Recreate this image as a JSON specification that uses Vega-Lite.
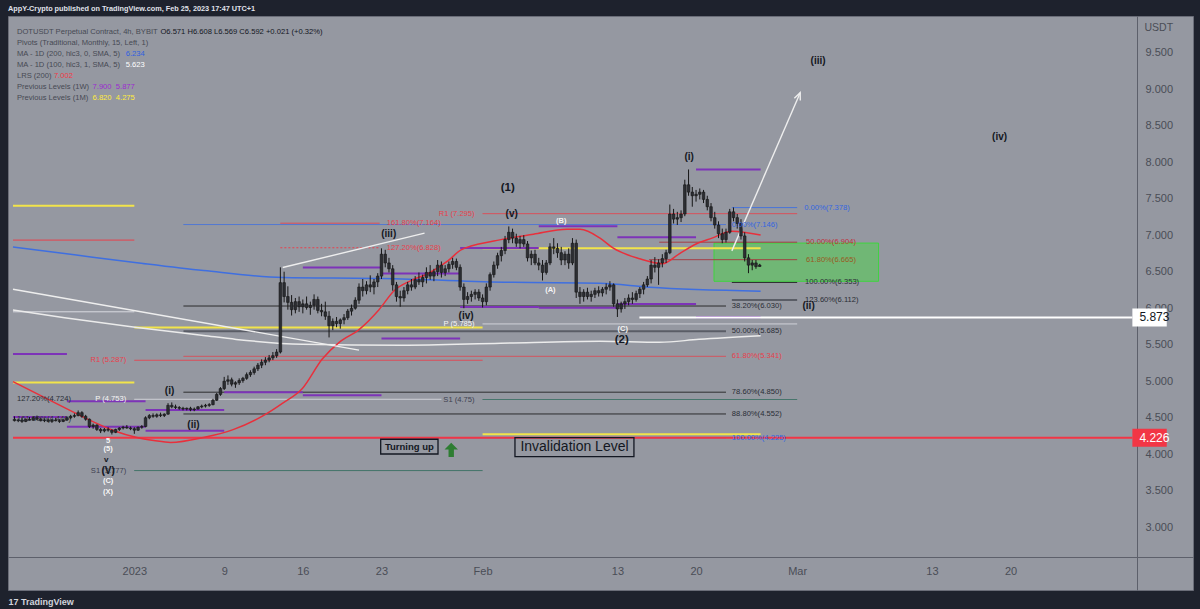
{
"$schema":"https://vega.github.io/schema/vega-lite/v6.json",
"width":1185,"height":574,
"autosize":{"type":"none"},
"padding":{"left":8,"top":16,"right":7,"bottom":19},
"background":"#1e222d",
"title":{"text":"AppY-Crypto published on TradingView.com, Feb 25, 2023 17:47 UTC+1","anchor":"start","frame":"group","color":"#e0e3eb","fontSize":7.3,"fontWeight":"bold","font":"Liberation Sans","offset":4},
"config":{"view":{"fill":"#9598a1","stroke":"#6a6d78","strokeWidth":1},"font":"Liberation Sans","axis":{"grid":false}},
"encoding":{
 "x":{"field":"t","type":"temporal","scale":{"domain":[{"year":2022,"month":12,"date":21,"hours":4,"minutes":48},{"year":2023,"month":4,"date":4,"hours":19}],"nice":false},
   "axis":{"orient":"bottom","offset":-33,"zindex":0,"values":[{"year":2023,"month":1,"date":1},{"year":2023,"month":1,"date":9},{"year":2023,"month":1,"date":16},{"year":2023,"month":1,"date":23},{"year":2023,"month":2,"date":1},{"year":2023,"month":2,"date":13},{"year":2023,"month":2,"date":20},{"year":2023,"month":3,"date":1},{"year":2023,"month":3,"date":13},{"year":2023,"month":3,"date":20}],
   "labelExpr":"date(datum.value)==1 ? (month(datum.value)==0 ? '2023' : timeFormat(datum.value,'%b')) : ''+date(datum.value)",
   "ticks":false,"tickSize":0,"labelPadding":8,"labelFontSize":11,"labelColor":"#4a4d56","labelFont":"Liberation Sans","domainColor":"#5d606b","domainWidth":1,"labelOverlap":false,"labelFlush":false,
   "title":"17 TradingView","titleX":0,"titleY":44,"titleAlign":"left","titleAnchor":"start","titleBaseline":"middle","titleColor":"#d1d4dc","titleFontSize":9,"titleFontWeight":"bold"}},
 "y":{"field":"p","type":"quantitative","scale":{"domain":[2.21,9.933],"nice":false,"zero":false},
   "axis":{"orient":"right","offset":-56,"zindex":0,"values":[3,3.5,4,4.5,5,5.5,6,6.5,7,7.5,8,8.5,9,9.5],"labelExpr":"format(datum.value,'.3f')",
   "ticks":false,"tickSize":0,"labelPadding":8,"labelAlign":"left","labelFontSize":11,"labelColor":"#4a4d56","labelFont":"Liberation Sans","domainColor":"#5d606b","labelOverlap":false,"labelFlush":false,
   "title":"USDT","titleAngle":0,"titleX":7,"titleY":11,"titleAlign":"left","titleBaseline":"middle","titleColor":"#4a4d56","titleFontSize":10.5,"titleFontWeight":"normal"}}
},
"datasets":{
"candles":[
{"t":"2022-12-21T08:00","o":4.48,"h":4.52,"l":4.45,"c":4.46},{"t":"2022-12-21T16:00","o":4.46,"h":4.49,"l":4.44,"c":4.47},
{"t":"2022-12-22T00:00","o":4.47,"h":4.50,"l":4.43,"c":4.45},{"t":"2022-12-22T08:00","o":4.45,"h":4.49,"l":4.44,"c":4.48},{"t":"2022-12-22T16:00","o":4.48,"h":4.51,"l":4.46,"c":4.47},
{"t":"2022-12-23T00:00","o":4.47,"h":4.52,"l":4.46,"c":4.50},{"t":"2022-12-23T08:00","o":4.50,"h":4.53,"l":4.47,"c":4.48},{"t":"2022-12-23T16:00","o":4.48,"h":4.50,"l":4.45,"c":4.46},
{"t":"2022-12-24T00:00","o":4.46,"h":4.49,"l":4.44,"c":4.47},{"t":"2022-12-24T08:00","o":4.47,"h":4.49,"l":4.44,"c":4.45},{"t":"2022-12-24T16:00","o":4.45,"h":4.48,"l":4.43,"c":4.47},
{"t":"2022-12-25T00:00","o":4.47,"h":4.50,"l":4.45,"c":4.46},{"t":"2022-12-25T08:00","o":4.46,"h":4.48,"l":4.43,"c":4.45},{"t":"2022-12-25T16:00","o":4.45,"h":4.48,"l":4.44,"c":4.47},
{"t":"2022-12-26T00:00","o":4.47,"h":4.51,"l":4.46,"c":4.50},{"t":"2022-12-26T08:00","o":4.50,"h":4.54,"l":4.48,"c":4.52},{"t":"2022-12-26T16:00","o":4.52,"h":4.56,"l":4.50,"c":4.53},
{"t":"2022-12-27T00:00","o":4.53,"h":4.60,"l":4.52,"c":4.57},{"t":"2022-12-27T08:00","o":4.57,"h":4.59,"l":4.50,"c":4.52},{"t":"2022-12-27T16:00","o":4.52,"h":4.54,"l":4.46,"c":4.48},
{"t":"2022-12-28T00:00","o":4.48,"h":4.49,"l":4.36,"c":4.38},{"t":"2022-12-28T08:00","o":4.38,"h":4.42,"l":4.35,"c":4.40},{"t":"2022-12-28T16:00","o":4.40,"h":4.41,"l":4.32,"c":4.34},
{"t":"2022-12-29T00:00","o":4.34,"h":4.36,"l":4.29,"c":4.32},{"t":"2022-12-29T08:00","o":4.32,"h":4.36,"l":4.30,"c":4.34},{"t":"2022-12-29T16:00","o":4.34,"h":4.37,"l":4.31,"c":4.33},
{"t":"2022-12-30T00:00","o":4.33,"h":4.34,"l":4.27,"c":4.30},{"t":"2022-12-30T08:00","o":4.30,"h":4.35,"l":4.29,"c":4.34},{"t":"2022-12-30T16:00","o":4.34,"h":4.37,"l":4.32,"c":4.36},
{"t":"2022-12-31T00:00","o":4.36,"h":4.39,"l":4.34,"c":4.37},{"t":"2022-12-31T08:00","o":4.37,"h":4.40,"l":4.35,"c":4.36},{"t":"2022-12-31T16:00","o":4.36,"h":4.38,"l":4.33,"c":4.35},
{"t":"2023-01-01T00:00","o":4.35,"h":4.37,"l":4.28,"c":4.33},{"t":"2023-01-01T08:00","o":4.33,"h":4.38,"l":4.32,"c":4.37},{"t":"2023-01-01T16:00","o":4.37,"h":4.40,"l":4.35,"c":4.38},
{"t":"2023-01-02T00:00","o":4.38,"h":4.52,"l":4.37,"c":4.50},{"t":"2023-01-02T08:00","o":4.50,"h":4.55,"l":4.48,"c":4.53},{"t":"2023-01-02T16:00","o":4.53,"h":4.56,"l":4.50,"c":4.52},
{"t":"2023-01-03T00:00","o":4.52,"h":4.56,"l":4.50,"c":4.54},{"t":"2023-01-03T08:00","o":4.54,"h":4.57,"l":4.51,"c":4.53},{"t":"2023-01-03T16:00","o":4.53,"h":4.56,"l":4.51,"c":4.55},
{"t":"2023-01-04T00:00","o":4.55,"h":4.70,"l":4.54,"c":4.67},{"t":"2023-01-04T08:00","o":4.67,"h":4.71,"l":4.63,"c":4.65},{"t":"2023-01-04T16:00","o":4.65,"h":4.68,"l":4.62,"c":4.64},
{"t":"2023-01-05T00:00","o":4.64,"h":4.66,"l":4.61,"c":4.63},{"t":"2023-01-05T08:00","o":4.63,"h":4.65,"l":4.60,"c":4.62},{"t":"2023-01-05T16:00","o":4.62,"h":4.64,"l":4.60,"c":4.63},
{"t":"2023-01-06T00:00","o":4.63,"h":4.65,"l":4.59,"c":4.61},{"t":"2023-01-06T08:00","o":4.61,"h":4.64,"l":4.59,"c":4.62},{"t":"2023-01-06T16:00","o":4.62,"h":4.66,"l":4.61,"c":4.65},
{"t":"2023-01-07T00:00","o":4.65,"h":4.68,"l":4.63,"c":4.66},{"t":"2023-01-07T08:00","o":4.66,"h":4.69,"l":4.64,"c":4.67},{"t":"2023-01-07T16:00","o":4.67,"h":4.70,"l":4.65,"c":4.68},
{"t":"2023-01-08T00:00","o":4.68,"h":4.76,"l":4.67,"c":4.74},{"t":"2023-01-08T08:00","o":4.74,"h":4.84,"l":4.73,"c":4.82},{"t":"2023-01-08T16:00","o":4.82,"h":4.92,"l":4.80,"c":4.90},
{"t":"2023-01-09T00:00","o":4.90,"h":5.06,"l":4.88,"c":5.00},{"t":"2023-01-09T08:00","o":5.00,"h":5.08,"l":4.95,"c":5.02},{"t":"2023-01-09T16:00","o":5.02,"h":5.05,"l":4.93,"c":4.96},
{"t":"2023-01-10T00:00","o":4.96,"h":5.00,"l":4.91,"c":4.98},{"t":"2023-01-10T08:00","o":4.98,"h":5.04,"l":4.95,"c":5.01},{"t":"2023-01-10T16:00","o":5.01,"h":5.06,"l":4.98,"c":5.04},
{"t":"2023-01-11T00:00","o":5.04,"h":5.12,"l":5.02,"c":5.09},{"t":"2023-01-11T08:00","o":5.09,"h":5.15,"l":5.06,"c":5.12},{"t":"2023-01-11T16:00","o":5.12,"h":5.20,"l":5.09,"c":5.17},
{"t":"2023-01-12T00:00","o":5.17,"h":5.25,"l":5.14,"c":5.22},{"t":"2023-01-12T08:00","o":5.22,"h":5.30,"l":5.18,"c":5.26},{"t":"2023-01-12T16:00","o":5.26,"h":5.33,"l":5.22,"c":5.29},
{"t":"2023-01-13T00:00","o":5.29,"h":5.36,"l":5.26,"c":5.32},{"t":"2023-01-13T08:00","o":5.32,"h":5.40,"l":5.29,"c":5.35},{"t":"2023-01-13T16:00","o":5.35,"h":5.44,"l":5.32,"c":5.40},
{"t":"2023-01-14T00:00","o":5.40,"h":6.56,"l":5.38,"c":6.35},{"t":"2023-01-14T08:00","o":6.35,"h":6.50,"l":6.08,"c":6.16},{"t":"2023-01-14T16:00","o":6.16,"h":6.30,"l":5.98,"c":6.08},
{"t":"2023-01-15T00:00","o":6.08,"h":6.18,"l":5.90,"c":5.98},{"t":"2023-01-15T08:00","o":5.98,"h":6.14,"l":5.93,"c":6.09},{"t":"2023-01-15T16:00","o":6.09,"h":6.16,"l":5.95,"c":6.02},
{"t":"2023-01-16T00:00","o":6.02,"h":6.12,"l":5.93,"c":6.06},{"t":"2023-01-16T08:00","o":6.06,"h":6.16,"l":5.98,"c":6.01},{"t":"2023-01-16T16:00","o":6.01,"h":6.09,"l":5.91,"c":6.04},
{"t":"2023-01-17T00:00","o":6.04,"h":6.19,"l":5.98,"c":6.12},{"t":"2023-01-17T08:00","o":6.12,"h":6.16,"l":5.93,"c":5.97},{"t":"2023-01-17T16:00","o":5.97,"h":6.06,"l":5.89,"c":5.95},
{"t":"2023-01-18T00:00","o":5.95,"h":6.09,"l":5.84,"c":5.89},{"t":"2023-01-18T08:00","o":5.89,"h":5.96,"l":5.60,"c":5.76},{"t":"2023-01-18T16:00","o":5.76,"h":5.86,"l":5.70,"c":5.82},
{"t":"2023-01-19T00:00","o":5.82,"h":5.88,"l":5.74,"c":5.79},{"t":"2023-01-19T08:00","o":5.79,"h":5.86,"l":5.72,"c":5.84},{"t":"2023-01-19T16:00","o":5.84,"h":5.92,"l":5.78,"c":5.87},
{"t":"2023-01-20T00:00","o":5.87,"h":5.99,"l":5.84,"c":5.96},{"t":"2023-01-20T08:00","o":5.96,"h":6.05,"l":5.90,"c":6.00},{"t":"2023-01-20T16:00","o":6.00,"h":6.15,"l":5.98,"c":6.11},
{"t":"2023-01-21T00:00","o":6.11,"h":6.34,"l":6.06,"c":6.29},{"t":"2023-01-21T08:00","o":6.29,"h":6.40,"l":6.16,"c":6.24},{"t":"2023-01-21T16:00","o":6.24,"h":6.37,"l":6.19,"c":6.32},
{"t":"2023-01-22T00:00","o":6.32,"h":6.45,"l":6.22,"c":6.29},{"t":"2023-01-22T08:00","o":6.29,"h":6.40,"l":6.19,"c":6.36},{"t":"2023-01-22T16:00","o":6.36,"h":6.48,"l":6.29,"c":6.44},
{"t":"2023-01-23T00:00","o":6.44,"h":6.82,"l":6.40,"c":6.74},{"t":"2023-01-23T08:00","o":6.74,"h":6.80,"l":6.56,"c":6.62},{"t":"2023-01-23T16:00","o":6.62,"h":6.69,"l":6.49,"c":6.54},
{"t":"2023-01-24T00:00","o":6.54,"h":6.59,"l":6.24,"c":6.32},{"t":"2023-01-24T08:00","o":6.32,"h":6.36,"l":6.09,"c":6.16},{"t":"2023-01-24T16:00","o":6.16,"h":6.24,"l":6.02,"c":6.14},
{"t":"2023-01-25T00:00","o":6.14,"h":6.29,"l":6.09,"c":6.24},{"t":"2023-01-25T08:00","o":6.24,"h":6.36,"l":6.19,"c":6.32},{"t":"2023-01-25T16:00","o":6.32,"h":6.40,"l":6.24,"c":6.29},
{"t":"2023-01-26T00:00","o":6.29,"h":6.44,"l":6.26,"c":6.39},{"t":"2023-01-26T08:00","o":6.39,"h":6.49,"l":6.32,"c":6.36},{"t":"2023-01-26T16:00","o":6.36,"h":6.46,"l":6.29,"c":6.42},
{"t":"2023-01-27T00:00","o":6.42,"h":6.56,"l":6.34,"c":6.49},{"t":"2023-01-27T08:00","o":6.49,"h":6.59,"l":6.39,"c":6.44},{"t":"2023-01-27T16:00","o":6.44,"h":6.54,"l":6.37,"c":6.50},
{"t":"2023-01-28T00:00","o":6.50,"h":6.66,"l":6.44,"c":6.59},{"t":"2023-01-28T08:00","o":6.59,"h":6.64,"l":6.42,"c":6.49},{"t":"2023-01-28T16:00","o":6.49,"h":6.59,"l":6.44,"c":6.54},
{"t":"2023-01-29T00:00","o":6.54,"h":6.64,"l":6.49,"c":6.60},{"t":"2023-01-29T08:00","o":6.60,"h":6.69,"l":6.54,"c":6.64},{"t":"2023-01-29T16:00","o":6.64,"h":6.68,"l":6.52,"c":6.56},
{"t":"2023-01-30T00:00","o":6.56,"h":6.60,"l":6.24,"c":6.29},{"t":"2023-01-30T08:00","o":6.29,"h":6.34,"l":6.00,"c":6.12},{"t":"2023-01-30T16:00","o":6.12,"h":6.22,"l":6.06,"c":6.16},
{"t":"2023-01-31T00:00","o":6.16,"h":6.24,"l":6.09,"c":6.19},{"t":"2023-01-31T08:00","o":6.19,"h":6.26,"l":6.12,"c":6.22},{"t":"2023-01-31T16:00","o":6.22,"h":6.26,"l":6.10,"c":6.14},
{"t":"2023-02-01T00:00","o":6.14,"h":6.19,"l":6.01,"c":6.09},{"t":"2023-02-01T08:00","o":6.09,"h":6.34,"l":6.04,"c":6.29},{"t":"2023-02-01T16:00","o":6.29,"h":6.49,"l":6.24,"c":6.46},
{"t":"2023-02-02T00:00","o":6.46,"h":6.64,"l":6.42,"c":6.59},{"t":"2023-02-02T08:00","o":6.59,"h":6.76,"l":6.54,"c":6.72},{"t":"2023-02-02T16:00","o":6.72,"h":6.84,"l":6.64,"c":6.79},
{"t":"2023-02-03T00:00","o":6.79,"h":6.99,"l":6.74,"c":6.94},{"t":"2023-02-03T08:00","o":6.94,"h":7.12,"l":6.89,"c":7.04},{"t":"2023-02-03T16:00","o":7.04,"h":7.09,"l":6.89,"c":6.96},
{"t":"2023-02-04T00:00","o":6.96,"h":7.02,"l":6.84,"c":6.89},{"t":"2023-02-04T08:00","o":6.89,"h":6.99,"l":6.82,"c":6.94},{"t":"2023-02-04T16:00","o":6.94,"h":7.00,"l":6.84,"c":6.88},
{"t":"2023-02-05T00:00","o":6.88,"h":6.92,"l":6.64,"c":6.69},{"t":"2023-02-05T08:00","o":6.69,"h":6.79,"l":6.59,"c":6.74},{"t":"2023-02-05T16:00","o":6.74,"h":6.80,"l":6.59,"c":6.62},
{"t":"2023-02-06T00:00","o":6.62,"h":6.69,"l":6.52,"c":6.59},{"t":"2023-02-06T08:00","o":6.59,"h":6.66,"l":6.38,"c":6.49},{"t":"2023-02-06T16:00","o":6.49,"h":6.66,"l":6.46,"c":6.62},
{"t":"2023-02-07T00:00","o":6.62,"h":6.89,"l":6.59,"c":6.84},{"t":"2023-02-07T08:00","o":6.84,"h":6.96,"l":6.74,"c":6.82},{"t":"2023-02-07T16:00","o":6.82,"h":6.89,"l":6.69,"c":6.76},
{"t":"2023-02-08T00:00","o":6.76,"h":6.84,"l":6.59,"c":6.66},{"t":"2023-02-08T08:00","o":6.66,"h":6.78,"l":6.59,"c":6.74},{"t":"2023-02-08T16:00","o":6.74,"h":6.82,"l":6.54,"c":6.62},
{"t":"2023-02-09T00:00","o":6.62,"h":6.96,"l":6.59,"c":6.89},{"t":"2023-02-09T08:00","o":6.89,"h":6.94,"l":6.14,"c":6.22},{"t":"2023-02-09T16:00","o":6.22,"h":6.29,"l":6.06,"c":6.16},
{"t":"2023-02-10T00:00","o":6.16,"h":6.26,"l":6.09,"c":6.22},{"t":"2023-02-10T08:00","o":6.22,"h":6.28,"l":6.12,"c":6.16},{"t":"2023-02-10T16:00","o":6.16,"h":6.24,"l":6.09,"c":6.19},
{"t":"2023-02-11T00:00","o":6.19,"h":6.28,"l":6.14,"c":6.24},{"t":"2023-02-11T08:00","o":6.24,"h":6.30,"l":6.16,"c":6.21},{"t":"2023-02-11T16:00","o":6.21,"h":6.29,"l":6.16,"c":6.26},
{"t":"2023-02-12T00:00","o":6.26,"h":6.34,"l":6.19,"c":6.29},{"t":"2023-02-12T08:00","o":6.29,"h":6.37,"l":6.24,"c":6.32},{"t":"2023-02-12T16:00","o":6.32,"h":6.34,"l":6.02,"c":6.06},
{"t":"2023-02-13T00:00","o":6.06,"h":6.12,"l":5.88,"c":5.99},{"t":"2023-02-13T08:00","o":5.99,"h":6.09,"l":5.94,"c":6.06},{"t":"2023-02-13T16:00","o":6.06,"h":6.14,"l":5.99,"c":6.09},
{"t":"2023-02-14T00:00","o":6.09,"h":6.19,"l":6.04,"c":6.14},{"t":"2023-02-14T08:00","o":6.14,"h":6.22,"l":6.06,"c":6.12},{"t":"2023-02-14T16:00","o":6.12,"h":6.24,"l":6.09,"c":6.20},
{"t":"2023-02-15T00:00","o":6.20,"h":6.29,"l":6.14,"c":6.26},{"t":"2023-02-15T08:00","o":6.26,"h":6.36,"l":6.19,"c":6.32},{"t":"2023-02-15T16:00","o":6.32,"h":6.44,"l":6.29,"c":6.40},
{"t":"2023-02-16T00:00","o":6.40,"h":6.66,"l":6.34,"c":6.59},{"t":"2023-02-16T08:00","o":6.59,"h":6.70,"l":6.49,"c":6.56},{"t":"2023-02-16T16:00","o":6.56,"h":6.67,"l":6.32,"c":6.62},
{"t":"2023-02-17T00:00","o":6.62,"h":6.74,"l":6.56,"c":6.68},{"t":"2023-02-17T08:00","o":6.68,"h":6.80,"l":6.62,"c":6.76},{"t":"2023-02-17T16:00","o":6.76,"h":7.42,"l":6.74,"c":7.29},
{"t":"2023-02-18T00:00","o":7.29,"h":7.36,"l":7.16,"c":7.22},{"t":"2023-02-18T08:00","o":7.22,"h":7.32,"l":7.14,"c":7.24},{"t":"2023-02-18T16:00","o":7.24,"h":7.34,"l":7.18,"c":7.29},
{"t":"2023-02-19T00:00","o":7.29,"h":7.76,"l":7.26,"c":7.69},{"t":"2023-02-19T08:00","o":7.69,"h":7.90,"l":7.54,"c":7.59},{"t":"2023-02-19T16:00","o":7.59,"h":7.66,"l":7.39,"c":7.54},
{"t":"2023-02-20T00:00","o":7.54,"h":7.62,"l":7.46,"c":7.56},{"t":"2023-02-20T08:00","o":7.56,"h":7.64,"l":7.49,"c":7.59},{"t":"2023-02-20T16:00","o":7.59,"h":7.62,"l":7.44,"c":7.49},
{"t":"2023-02-21T00:00","o":7.49,"h":7.54,"l":7.34,"c":7.39},{"t":"2023-02-21T08:00","o":7.39,"h":7.44,"l":7.19,"c":7.24},{"t":"2023-02-21T16:00","o":7.24,"h":7.32,"l":7.09,"c":7.14},
{"t":"2023-02-22T00:00","o":7.14,"h":7.19,"l":6.96,"c":7.02},{"t":"2023-02-22T08:00","o":7.02,"h":7.09,"l":6.89,"c":6.94},{"t":"2023-02-22T16:00","o":6.94,"h":7.09,"l":6.90,"c":7.04},
{"t":"2023-02-23T00:00","o":7.04,"h":7.36,"l":7.02,"c":7.32},{"t":"2023-02-23T08:00","o":7.32,"h":7.38,"l":7.19,"c":7.24},{"t":"2023-02-23T16:00","o":7.24,"h":7.29,"l":7.09,"c":7.16},
{"t":"2023-02-24T00:00","o":7.16,"h":7.22,"l":6.94,"c":6.99},{"t":"2023-02-24T08:00","o":6.99,"h":7.04,"l":6.64,"c":6.69},{"t":"2023-02-24T16:00","o":6.69,"h":6.74,"l":6.48,"c":6.59},
{"t":"2023-02-25T00:00","o":6.59,"h":6.66,"l":6.52,"c":6.62},{"t":"2023-02-25T08:00","o":6.62,"h":6.66,"l":6.54,"c":6.57},{"t":"2023-02-25T16:00","o":6.571,"h":6.608,"l":6.569,"c":6.592}
],
"curves":[
{"s":"MA200","t":"2022-12-21T04:48","p":6.838},{"s":"MA200","t":"2022-12-26T16:00","p":6.731},{"s":"MA200","t":"2023-01-01T05:30","p":6.623},{"s":"MA200","t":"2023-01-07T04:00","p":6.516},{"s":"MA200","t":"2023-01-14T05:00","p":6.421},{"s":"MA200","t":"2023-01-23T01:00","p":6.408},{"s":"MA200","t":"2023-02-03T18:30","p":6.354},{"s":"MA200","t":"2023-02-11T11:00","p":6.341},{"s":"MA200","t":"2023-02-15T20:40","p":6.287},{"s":"MA200","t":"2023-02-25T18:00","p":6.234},
{"s":"MA100","t":"2022-12-21T04:48","p":5.977},{"s":"MA100","t":"2022-12-25T19:00","p":5.870},{"s":"MA100","t":"2023-01-01T05:30","p":5.735},{"s":"MA100","t":"2023-01-07T03:30","p":5.627},{"s":"MA100","t":"2023-01-10T01:30","p":5.573},{"s":"MA100","t":"2023-01-15T23:00","p":5.506},{"s":"MA100","t":"2023-01-24T19:00","p":5.493},{"s":"MA100","t":"2023-02-02T15:00","p":5.520},{"s":"MA100","t":"2023-02-11T11:00","p":5.547},{"s":"MA100","t":"2023-02-16T17:45","p":5.533},{"s":"MA100","t":"2023-02-20T06:30","p":5.574},{"s":"MA100","t":"2023-02-25T18:00","p":5.623},
{"s":"LRS","t":"2022-12-21T04:48","p":4.995},{"s":"LRS","t":"2022-12-26T09:40","p":4.592},{"s":"LRS","t":"2022-12-28T04:00","p":4.458},{"s":"LRS","t":"2022-12-30T04:50","p":4.323},{"s":"LRS","t":"2023-01-01T05:30","p":4.229},{"s":"LRS","t":"2023-01-02T17:30","p":4.189},{"s":"LRS","t":"2023-01-04T05:30","p":4.162},{"s":"LRS","t":"2023-01-07T03:30","p":4.229},{"s":"LRS","t":"2023-01-09T19:00","p":4.337},{"s":"LRS","t":"2023-01-12T10:30","p":4.525},{"s":"LRS","t":"2023-01-14T05:00","p":4.700},{"s":"LRS","t":"2023-01-15T23:00","p":4.901},{"s":"LRS","t":"2023-01-17T17:30","p":5.305},{"s":"LRS","t":"2023-01-19T05:40","p":5.533},{"s":"LRS","t":"2023-01-21T00:00","p":5.708},{"s":"LRS","t":"2023-01-22T18:15","p":5.977},{"s":"LRS","t":"2023-01-24T04:00","p":6.246},{"s":"LRS","t":"2023-01-25T16:00","p":6.381},{"s":"LRS","t":"2023-01-27T04:00","p":6.476},{"s":"LRS","t":"2023-01-28T22:30","p":6.651},{"s":"LRS","t":"2023-01-30T02:00","p":6.798},{"s":"LRS","t":"2023-02-02T00:00","p":6.920},{"s":"LRS","t":"2023-02-05T12:40","p":7.013},{"s":"LRS","t":"2023-02-08T12:40","p":7.081},{"s":"LRS","t":"2023-02-09T16:20","p":7.081},{"s":"LRS","t":"2023-02-11T11:00","p":6.960},{"s":"LRS","t":"2023-02-12T14:30","p":6.825},{"s":"LRS","t":"2023-02-14T23:30","p":6.677},{"s":"LRS","t":"2023-02-17T00:00","p":6.610},{"s":"LRS","t":"2023-02-18T12:00","p":6.745},{"s":"LRS","t":"2023-02-20T00:00","p":6.880},{"s":"LRS","t":"2023-02-21T10:00","p":6.960},{"s":"LRS","t":"2023-02-23T04:30","p":7.054},{"s":"LRS","t":"2023-02-25T18:00","p":7.002}
],
"drawings":[
{"s":"tl1","t":"2022-12-21T04:48","p":6.260},{"s":"tl1","t":"2023-01-21T00:00","p":5.426},
{"s":"tl2","t":"2023-01-14T05:00","p":6.557},{"s":"tl2","t":"2023-01-26T20:00","p":7.028},
{"s":"arrow","t":"2023-02-23T04:30","p":6.785},{"s":"arrow","t":"2023-03-01T06:30","p":8.951},
{"s":"head","t":"2023-02-28T18:00","p":8.875},{"s":"head","t":"2023-03-01T06:30","p":8.951},{"s":"head","t":"2023-03-01T06:40","p":8.843}
],
"levels":[
{"t":"2022-12-21T04:48","t2":"2023-01-01T00:00","p":5.951,"k":"pivP"},
{"t":"2022-12-21T04:48","t2":"2023-01-01T00:00","p":6.933,"k":"pivR"},
{"t":"2023-01-01T00:00","t2":"2023-01-28T08:00","p":4.753,"k":"pivP"},
{"t":"2023-01-01T00:00","t2":"2023-02-01T00:00","p":5.287,"k":"pivR"},
{"t":"2023-01-01T00:00","t2":"2023-02-01T00:00","p":3.777,"k":"pivS"},
{"t":"2023-02-01T00:00","t2":"2023-03-01T00:00","p":5.785,"k":"pivP"},
{"t":"2023-02-01T00:00","t2":"2023-03-01T00:00","p":7.295,"k":"pivR"},
{"t":"2023-02-01T00:00","t2":"2023-03-01T00:00","p":4.75,"k":"pivS"},
{"t":"2023-01-05T09:00","t2":"2023-02-22T16:00","p":7.146,"k":"fibBlue"},
{"t":"2023-01-05T09:00","t2":"2023-02-22T16:00","p":6.030,"k":"fibDark"},
{"t":"2023-01-05T09:00","t2":"2023-02-22T16:00","p":5.685,"k":"fibGray"},
{"t":"2023-01-05T09:00","t2":"2023-02-22T16:00","p":5.341,"k":"fibRed"},
{"t":"2023-01-05T09:00","t2":"2023-02-22T16:00","p":4.850,"k":"fibDark"},
{"t":"2023-01-05T09:00","t2":"2023-02-22T16:00","p":4.552,"k":"fibDark"},
{"t":"2023-01-05T09:00","t2":"2023-02-22T16:00","p":4.225,"k":"fibBlue"},
{"t":"2023-02-23T04:30","t2":"2023-03-01T00:00","p":7.378,"k":"fibBlue"},
{"t":"2023-02-16T17:30","t2":"2023-03-01T00:00","p":6.904,"k":"fibDarkRed"},
{"t":"2023-02-15T20:00","t2":"2023-03-01T00:00","p":6.665,"k":"fibDarkRed"},
{"t":"2023-02-23T04:30","t2":"2023-03-01T00:00","p":6.353,"k":"fibDark"},
{"t":"2023-02-23T04:30","t2":"2023-03-01T00:00","p":6.112,"k":"fibGray"},
{"t":"2023-01-14T00:00","t2":"2023-01-22T20:00","p":7.164,"k":"extRed"},
{"t":"2023-01-14T00:00","t2":"2023-01-22T20:00","p":6.828,"k":"extRedDot"},
{"t":"2022-12-21T04:48","t2":"2023-01-01T00:00","p":7.404,"k":"month"},
{"t":"2022-12-21T04:48","t2":"2023-01-01T00:00","p":4.982,"k":"month"},
{"t":"2023-01-01T00:00","t2":"2023-02-01T00:00","p":5.736,"k":"month"},
{"t":"2023-02-01T00:00","t2":"2023-02-25T18:00","p":6.820,"k":"month"},
{"t":"2023-02-01T00:00","t2":"2023-02-25T18:00","p":4.275,"k":"month"},
{"t":"2022-12-21T04:48","t2":"2022-12-26T00:00","p":5.372,"k":"week"},
{"t":"2022-12-21T04:48","t2":"2022-12-26T00:00","p":4.512,"k":"week"},
{"t":"2022-12-26T00:00","t2":"2023-01-02T00:00","p":4.727,"k":"week"},
{"t":"2022-12-26T00:00","t2":"2023-01-02T00:00","p":4.377,"k":"week"},
{"t":"2023-01-02T00:00","t2":"2023-01-09T00:00","p":4.606,"k":"week"},
{"t":"2023-01-02T00:00","t2":"2023-01-09T00:00","p":4.323,"k":"week"},
{"t":"2023-01-09T00:00","t2":"2023-01-16T00:00","p":4.848,"k":"week"},
{"t":"2023-01-16T00:00","t2":"2023-01-23T00:00","p":6.557,"k":"week"},
{"t":"2023-01-16T00:00","t2":"2023-01-23T00:00","p":4.808,"k":"week"},
{"t":"2023-01-23T00:00","t2":"2023-01-30T00:00","p":6.477,"k":"week"},
{"t":"2023-01-23T00:00","t2":"2023-01-30T00:00","p":5.587,"k":"week"},
{"t":"2023-01-30T00:00","t2":"2023-02-06T00:00","p":6.825,"k":"week"},
{"t":"2023-01-30T00:00","t2":"2023-02-06T00:00","p":6.018,"k":"week"},
{"t":"2023-02-06T00:00","t2":"2023-02-13T00:00","p":7.121,"k":"week"},
{"t":"2023-02-06T00:00","t2":"2023-02-13T00:00","p":6.005,"k":"week"},
{"t":"2023-02-13T00:00","t2":"2023-02-20T00:00","p":6.971,"k":"week"},
{"t":"2023-02-13T00:00","t2":"2023-02-20T00:00","p":6.059,"k":"week"},
{"t":"2023-02-20T00:00","t2":"2023-02-25T18:00","p":7.900,"k":"week"},
{"t":"2023-02-20T00:00","t2":"2023-02-25T18:00","p":5.877,"k":"week"},
{"t":"2023-02-14T23:00","t2":"2023-03-30T20:10","p":5.873,"k":"white"},
{"t":"2022-12-21T04:48","t2":"2023-03-30T20:10","p":4.226,"k":"invalid"}
],
"boxes":[
{"t":"2023-02-21T14:24","t2":"2023-03-08T06:00","p":6.892,"p2":6.369,"k":"zone"},
{"t":"2023-01-22T22:20","t2":"2023-01-28T00:45","p":4.206,"p2":4.004,"k":"turn"},
{"t":"2023-02-03T21:10","t2":"2023-02-14T11:20","p":4.229,"p2":3.969,"k":"inval"}
],
"tags":[
{"t":"2023-03-30T20:10","t2":"2023-04-02T21:36","p":5.873,"text":"5.873","k":"white"},
{"t":"2023-03-30T20:10","t2":"2023-04-02T21:36","p":4.226,"text":"4.226","k":"red"}
],
"labels":[
{"t":"2022-12-21T13:12","p":9.789,"text":"DOTUSDT Perpetual Contract, 4h, BYBIT","k":"hdr"},
{"t":"2023-01-03T07:40","p":9.789,"text":"O6.571 H6.608 L6.569 C6.592 +0.021 (+0.32%)","k":"hdrv"},
{"t":"2022-12-21T13:12","p":9.633,"text":"Pivots (Traditional, Monthly, 15, Left, 1)","k":"hdr"},
{"t":"2022-12-21T13:12","p":9.475,"text":"MA - 1D (200, hlc3, 0, SMA, 5)","k":"hdr"},
{"t":"2022-12-31T05:30","p":9.475,"text":"6.234","k":"hdrBlue"},
{"t":"2022-12-21T13:12","p":9.327,"text":"MA - 1D (100, hlc3, 1, SMA, 5)","k":"hdr"},
{"t":"2022-12-31T05:30","p":9.327,"text":"5.623","k":"hdrWhite"},
{"t":"2022-12-21T13:12","p":9.183,"text":"LRS (200)","k":"hdr"},
{"t":"2022-12-24T20:10","p":9.183,"text":"7.002","k":"hdrRed"},
{"t":"2022-12-21T13:12","p":9.035,"text":"Previous Levels (1W)","k":"hdr"},
{"t":"2022-12-28T06:45","p":9.035,"text":"7.900","k":"hdrPurple"},
{"t":"2022-12-30T08:25","p":9.035,"text":"5.877","k":"hdrPurple"},
{"t":"2022-12-21T13:12","p":8.879,"text":"Previous Levels (1M)","k":"hdr"},
{"t":"2022-12-28T06:45","p":8.879,"text":"6.820","k":"hdrYellow"},
{"t":"2022-12-30T08:25","p":8.879,"text":"4.275","k":"hdrYellow"},
{"t":"2022-12-21T13:12","p":4.753,"text":"127.20%(4.724)","k":"fibDark"},
{"t":"2022-12-21T13:12","p":4.485,"text":"161.80%(4.440)","k":"fibDark"},
{"t":"2023-01-23T11:15","p":7.164,"text":"161.80%(7.164)","k":"fibRed"},
{"t":"2023-01-23T11:15","p":6.828,"text":"127.20%(6.828)","k":"fibRed"},
{"t":"2023-02-23T04:30","p":7.146,"text":"0.00%(7.146)","k":"fibBlue"},
{"t":"2023-02-23T04:30","p":6.030,"text":"38.20%(6.030)","k":"fibDark"},
{"t":"2023-02-23T04:30","p":5.685,"text":"50.00%(5.685)","k":"fibDark"},
{"t":"2023-02-23T04:30","p":5.341,"text":"61.80%(5.341)","k":"fibRed"},
{"t":"2023-02-23T04:30","p":4.850,"text":"78.60%(4.850)","k":"fibDark"},
{"t":"2023-02-23T04:30","p":4.552,"text":"88.80%(4.552)","k":"fibDark"},
{"t":"2023-02-23T04:30","p":4.225,"text":"100.00%(4.225)","k":"fibBlue"},
{"t":"2023-03-01T15:00","p":7.378,"text":"0.00%(7.378)","k":"fibBlue"},
{"t":"2023-03-01T19:10","p":6.904,"text":"50.00%(6.904)","k":"fibRed2"},
{"t":"2023-03-01T19:10","p":6.665,"text":"61.80%(6.665)","k":"fibBrown"},
{"t":"2023-03-01T17:00","p":6.353,"text":"100.00%(6.353)","k":"fibDark"},
{"t":"2023-03-01T17:00","p":6.112,"text":"123.60%(6.112)","k":"fibDark"},
{"t":"2023-01-01T00:00","p":5.287,"text":"R1 (5.287)","k":"pivR"},
{"t":"2023-01-01T00:00","p":4.753,"text":"P (4.753)","k":"pivP"},
{"t":"2023-01-01T00:00","p":3.777,"text":"S1 (3.777)","k":"pivS"},
{"t":"2023-02-01T00:00","p":7.295,"text":"R1 (7.295)","k":"pivR"},
{"t":"2023-02-01T00:00","p":5.785,"text":"P (5.785)","k":"pivP"},
{"t":"2023-02-01T00:00","p":4.75,"text":"S1 (4.75)","k":"pivS"},
{"t":"2023-03-02T20:40","p":9.381,"text":"(iii)","k":"wave"},
{"t":"2023-03-19T00:30","p":8.345,"text":"(iv)","k":"wave"},
{"t":"2023-02-19T09:20","p":8.075,"text":"(i)","k":"wave"},
{"t":"2023-02-03T05:45","p":7.645,"text":"(1)","k":"waveL"},
{"t":"2023-02-03T14:10","p":7.295,"text":"(v)","k":"wave"},
{"t":"2023-02-08T00:00","p":7.188,"text":"(B)","k":"waveW"},
{"t":"2023-01-23T15:30","p":7.014,"text":"(iii)","k":"wave"},
{"t":"2023-02-07T00:45","p":6.247,"text":"(A)","k":"waveW"},
{"t":"2023-01-30T12:45","p":5.895,"text":"(iv)","k":"wave"},
{"t":"2023-02-13T11:20","p":5.721,"text":"(C)","k":"waveW"},
{"t":"2023-02-13T09:20","p":5.560,"text":"(2)","k":"waveL"},
{"t":"2023-01-04T03:20","p":4.862,"text":"(i)","k":"wave"},
{"t":"2023-01-06T06:15","p":4.405,"text":"(ii)","k":"wave"},
{"t":"2023-03-02T00:30","p":6.025,"text":"(ii)","k":"wave"},
{"t":"2022-12-29T16:00","p":4.175,"text":"5","k":"waveW"},
{"t":"2022-12-29T16:00","p":4.068,"text":"(5)","k":"waveW"},
{"t":"2022-12-29T12:00","p":3.919,"text":"v","k":"waveS"},
{"t":"2022-12-29T16:00","p":3.771,"text":"(V)","k":"wave"},
{"t":"2022-12-29T16:00","p":3.637,"text":"(C)","k":"waveW"},
{"t":"2022-12-29T16:00","p":3.489,"text":"(X)","k":"waveW"},
{"t":"2023-01-25T11:30","p":4.105,"text":"Turning up","k":"turn"},
{"t":"2023-02-09T04:20","p":4.100,"text":"Invalidation Level","k":"inval"}
],
"marks":[{"t":"2023-01-29T05:00","p":4.060,"k":"up"}]
},
"resolve":{"scale":{"color":"independent","size":"independent"}},
"layer":[
{"data":{"name":"boxes"},"transform":[{"filter":"datum.k=='zone'"}],
 "mark":{"type":"rect","fill":"#52d152","fillOpacity":0.55,"stroke":"#3ed43e","strokeWidth":1},
 "encoding":{"x2":{"field":"t2"},"y2":{"field":"p2"}}},
{"data":{"name":"levels"},
 "mark":{"type":"rule"},
 "encoding":{"x2":{"field":"t2"},
 "color":{"field":"k","type":"nominal","legend":null,"scale":{"domain":["week","month","pivP","pivR","pivS","fibDark","fibGray","fibRed","fibBlue","fibDarkRed","extRed","extRedDot","white","invalid"],"range":["#7d33b8","#f2e44a","#d9dbe0","#e8404c","#2f6b5c","#1d1d1d","#5a5d66","#e04652","#3f6fe0","#a8323a","#e8404c","#e8404c","#ffffff","#f23645"]}},
 "strokeWidth":{"condition":{"test":"indexof(['week','month','white','invalid','fibGray'], datum.k) >= 0","value":2},"value":1},
 "strokeDash":{"condition":{"test":"datum.k=='extRedDot'","value":[2,2]},"value":[1,0]}}},
{"data":{"name":"curves"},
 "mark":{"type":"line","interpolate":"monotone","strokeWidth":1.5},
 "encoding":{"color":{"field":"s","type":"nominal","legend":null,"scale":{"domain":["MA200","MA100","LRS"],"range":["#3f6fe0","#ebebeb","#e8303c"]}}}},
{"data":{"name":"drawings"},
 "mark":{"type":"line","color":"#eeeeee","strokeWidth":1.4},
 "encoding":{"detail":{"field":"s"}}},
{"data":{"name":"candles"},
 "mark":{"type":"rule","color":"#161616","strokeWidth":1,"clip":true},
 "encoding":{"y":{"field":"l","type":"quantitative","scale":{"domain":[2.21,9.933],"nice":false,"zero":false}},"y2":{"field":"h"}}},
{"data":{"name":"candles"},
 "mark":{"type":"bar","size":2.6,"color":"#2c2e33","stroke":"#151515","strokeWidth":0.6,"clip":true},
 "encoding":{"y":{"field":"o","type":"quantitative","scale":{"domain":[2.21,9.933],"nice":false,"zero":false}},"y2":{"field":"c"}}},
{"data":{"name":"boxes"},"transform":[{"filter":"datum.k!='zone'"}],
 "mark":{"type":"rect","fill":"#9598a1","fillOpacity":0,"stroke":"#131722","strokeWidth":1.3},
 "encoding":{"x2":{"field":"t2"},"y2":{"field":"p2"}}},
{"data":{"name":"marks"},
 "mark":{"type":"point","shape":"M0,-1L0.95,-0.05L0.38,-0.05L0.38,1L-0.38,1L-0.38,-0.05L-0.95,-0.05Z","filled":true,"color":"#2e7d32","size":200,"opacity":1}},
{"data":{"name":"labels"},"transform":[{"filter":"indexof(['hdr','hdrv','hdrBlue','hdrWhite','hdrRed','hdrPurple','hdrYellow','fibDark','fibRed','fibBlue','fibRed2','fibBrown'], datum.k) >= 0"}],
 "mark":{"type":"text","align":"left","baseline":"middle","fontSize":7.6},
 "encoding":{"text":{"field":"text"},
 "color":{"field":"k","type":"nominal","legend":null,"scale":{"domain":["hdr","hdrv","hdrBlue","hdrWhite","hdrRed","hdrPurple","hdrYellow","fibDark","fibRed","fibBlue","fibRed2","fibBrown"],"range":["#464953","#131722","#2f5fe0","#ffffff","#f23645","#9c2bd0","#ffeb3b","#2a2d35","#e8404c","#3366e0","#c0303a","#9a5a22"]}}}},
{"data":{"name":"labels"},"transform":[{"filter":"indexof(['pivR','pivP','pivS'], datum.k) >= 0"}],
 "mark":{"type":"text","align":"right","baseline":"middle","fontSize":7.6,"dx":-8},
 "encoding":{"text":{"field":"text"},
 "color":{"field":"k","type":"nominal","legend":null,"scale":{"domain":["pivR","pivP","pivS"],"range":["#e8404c","#f5f5f5","#3e4150"]}}}},
{"data":{"name":"labels"},"transform":[{"filter":"indexof(['wave','waveL','waveW','waveS'], datum.k) >= 0"}],
 "mark":{"type":"text","align":"center","baseline":"middle","fontWeight":"bold"},
 "encoding":{"text":{"field":"text"},
 "size":{"condition":[{"test":"datum.k=='waveL'","value":11.5},{"test":"datum.k=='waveW'","value":7.5},{"test":"datum.k=='waveS'","value":8}],"value":10},
 "color":{"field":"k","type":"nominal","legend":null,"scale":{"domain":["wave","waveL","waveW","waveS"],"range":["#131722","#131722","#f5f5f5","#131722"]}}}},
{"data":{"name":"labels"},"transform":[{"filter":"datum.k=='turn'"}],
 "mark":{"type":"text","align":"center","baseline":"middle","fontWeight":"bold","fontSize":9.5,"color":"#131722"},
 "encoding":{"text":{"field":"text"}}},
{"data":{"name":"labels"},"transform":[{"filter":"datum.k=='inval'"}],
 "mark":{"type":"text","align":"center","baseline":"middle","fontSize":14,"color":"#131722"},
 "encoding":{"text":{"field":"text"}}},
{"data":{"name":"tags"},
 "mark":{"type":"bar","size":18},
 "encoding":{"x2":{"field":"t2"},
 "color":{"field":"k","type":"nominal","legend":null,"scale":{"domain":["white","red"],"range":["#ffffff","#f23645"]}}}},
{"data":{"name":"tags"},
 "mark":{"type":"text","align":"left","baseline":"middle","fontSize":12,"dx":7},
 "encoding":{"text":{"field":"text"},
 "color":{"field":"k","type":"nominal","legend":null,"scale":{"domain":["white","red"],"range":["#131722","#ffffff"]}}}}
]
}
